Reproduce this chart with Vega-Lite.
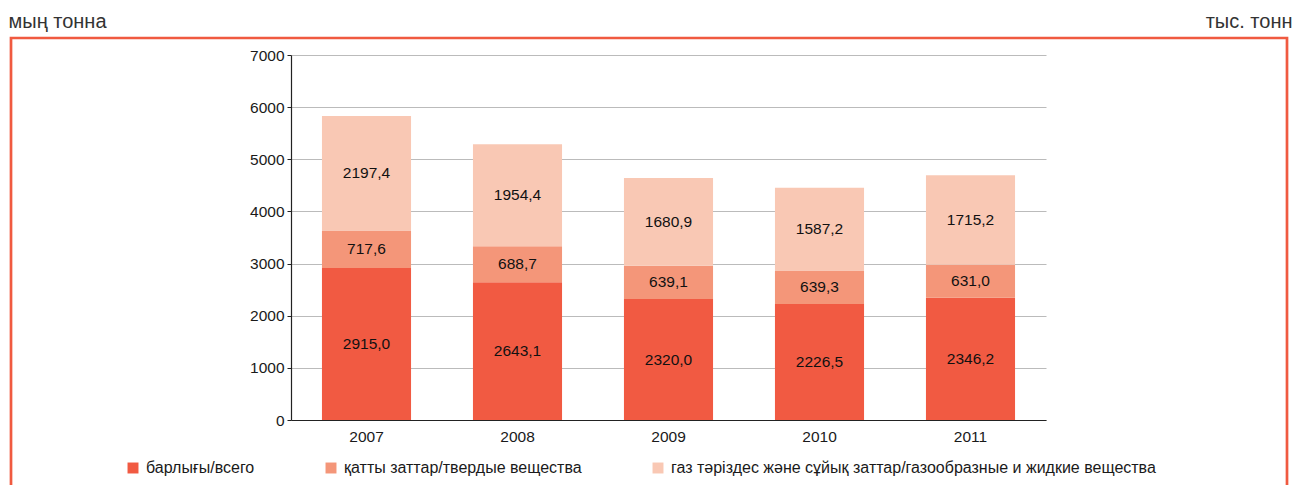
{
  "$schema": "https://vega.github.io/schema/vega-lite/v6.json",
  "autosize": "none",
  "width": 1276,
  "height": 455,
  "padding": {"left": 11, "top": 38, "right": 6, "bottom": 0},
  "background": "white",
  "config": {
    "font": "Liberation Sans",
    "view": {"stroke": "#F05A40", "strokeWidth": 2.7},
    "locale": {"number": {"decimal": ",", "thousands": " ", "grouping": [3], "currency": ["", ""]}}
  },
  "data": {
    "values": [
      {"year": "2007", "category": "барлығы/всего", "order": 1, "value": 2915.0},
      {"year": "2007", "category": "қатты заттар/твердые вещества", "order": 2, "value": 717.6},
      {"year": "2007", "category": "газ тәріздес және сұйық заттар/газообразные и жидкие вещества", "order": 3, "value": 2197.4},
      {"year": "2008", "category": "барлығы/всего", "order": 1, "value": 2643.1},
      {"year": "2008", "category": "қатты заттар/твердые вещества", "order": 2, "value": 688.7},
      {"year": "2008", "category": "газ тәріздес және сұйық заттар/газообразные и жидкие вещества", "order": 3, "value": 1954.4},
      {"year": "2009", "category": "барлығы/всего", "order": 1, "value": 2320.0},
      {"year": "2009", "category": "қатты заттар/твердые вещества", "order": 2, "value": 639.1},
      {"year": "2009", "category": "газ тәріздес және сұйық заттар/газообразные и жидкие вещества", "order": 3, "value": 1680.9},
      {"year": "2010", "category": "барлығы/всего", "order": 1, "value": 2226.5},
      {"year": "2010", "category": "қатты заттар/твердые вещества", "order": 2, "value": 639.3},
      {"year": "2010", "category": "газ тәріздес және сұйық заттар/газообразные и жидкие вещества", "order": 3, "value": 1587.2},
      {"year": "2011", "category": "барлығы/всего", "order": 1, "value": 2346.2},
      {"year": "2011", "category": "қатты заттар/твердые вещества", "order": 2, "value": 631.0},
      {"year": "2011", "category": "газ тәріздес және сұйық заттар/газообразные и жидкие вещества", "order": 3, "value": 1715.2}
    ]
  },
  "transform": [
    {"stack": "value", "groupby": ["year"], "sort": [{"field": "order", "order": "ascending"}], "as": ["v0", "v1"]},
    {"calculate": "(datum.v0 + datum.v1) / 2", "as": "mid"}
  ],
  "encoding": {
    "x": {
      "field": "year",
      "type": "nominal",
      "scale": {"type": "band", "range": [280, 1035], "paddingInner": 0.41, "paddingOuter": 0.205},
      "axis": {
        "title": "тыс. тонн",
        "titleX": 1281,
        "titleY": -393,
        "titleAlign": "right",
        "titleAnchor": null,
        "titleBaseline": "alphabetic",
        "titleFontSize": 20,
        "titleFontWeight": "normal",
        "titleColor": "#333333",
        "orient": "bottom",
        "offset": -73,
        "labelAngle": 0,
        "ticks": false,
        "labelPadding": 9,
        "labelFontSize": 15.5,
        "labelColor": "#1a1a1a",
        "domainColor": "#222222",
        "domainWidth": 1.2,
        "grid": false
      }
    }
  },
  "layer": [
    {
      "mark": {"type": "bar"},
      "encoding": {
        "y": {
          "field": "v0",
          "type": "quantitative",
          "scale": {"domain": [0, 7000], "range": [382, 17], "nice": false, "zero": true},
          "axis": {
            "title": "мың тонна",
            "titleAngle": 0,
            "titleX": -283,
            "titleY": -11,
            "titleAlign": "left",
            "titleBaseline": "alphabetic",
            "titleFontSize": 20,
            "titleFontWeight": "normal",
            "titleColor": "#333333",
            "offset": -280,
            "values": [0, 1000, 2000, 3000, 4000, 5000, 6000, 7000],
            "format": "d",
            "labelFontSize": 15.5,
            "labelColor": "#1a1a1a",
            "labelPadding": 3,
            "tickSize": 4,
            "tickColor": "#222222",
            "domainColor": "#222222",
            "domainWidth": 1.2,
            "grid": true,
            "gridColor": "#bbbbbb",
            "gridWidth": 1
          }
        },
        "y2": {"field": "v1"},
        "color": {
          "field": "category",
          "type": "nominal",
          "scale": {
            "domain": ["барлығы/всего", "қатты заттар/твердые вещества", "газ тәріздес және сұйық заттар/газообразные и жидкие вещества"],
            "range": ["#F15A42", "#F49679", "#F9C8B4"]
          },
          "legend": {
            "title": null,
            "orient": "none",
            "direction": "horizontal",
            "legendX": 114,
            "legendY": 422,
            "padding": 0,
            "symbolType": "square",
            "symbolSize": 120,
            "symbolStrokeWidth": 0,
            "labelFontSize": 16,
            "labelColor": "#1a1a1a",
            "labelOffset": 5,
            "labelLimit": 700,
            "columnPadding": 68
          }
        }
      }
    },
    {
      "mark": {"type": "text", "fontSize": 15.5, "color": "#111111", "baseline": "middle", "align": "center"},
      "encoding": {
        "y": {"field": "mid", "type": "quantitative"},
        "text": {"field": "value", "type": "quantitative", "format": ".1f"}
      }
    }
  ]
}
